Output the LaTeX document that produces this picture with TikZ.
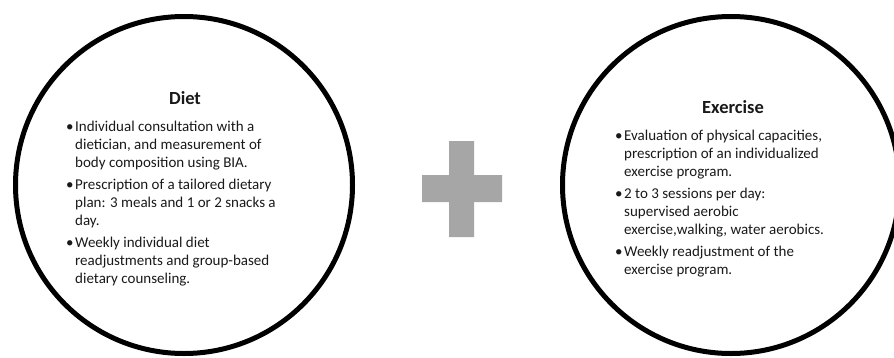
\documentclass[tikz,border=0pt]{standalone}
\usepackage{fontspec}
\setmainfont{Carlito}
\begin{document}
\begin{tikzpicture}[x=1pt,y=-1pt,
  ring/.style={circle, draw=black, line width=5pt, minimum size=337pt, inner sep=0pt},
  heading/.style={font=\fontsize{18.5}{22}\selectfont\bfseries, inner sep=0pt, anchor=base, text=black!90},
  bullets/.style={font=\fontsize{15}{18}\selectfont, anchor=base west, inner sep=0pt, text=black!90},
  plus/.style={fill=black!35, draw=none}]
\useasboundingbox (0,0) rectangle (894,357);
\node[ring] (diet) at (184,185) {};
\node[ring] (exercise) at (731,185) {};
\node[heading] (diettitle) at (185,104) {Diet};
\node[heading] (exercisetitle) at (733,113) {Exercise};
\node[bullets] (diettext) at (66,131.5) {\begin{tabular}[t]{@{}p{9pt}@{}l@{}}
•& Individual consultation with a\\
 & dietician, and measurement of\\
 & body composition using BIA.\\[4pt]
•& Prescription of a tailored dietary\\
 & plan: 3 meals and 1 or 2 snacks a\\
 & day.\\[4pt]
•& Weekly individual diet\\
 & readjustments and group-based\\
 & dietary counseling.
\end{tabular}};
\node[bullets] (exercisetext) at (615,140.5) {\begin{tabular}[t]{@{}p{9pt}@{}l@{}}
•& Evaluation of physical capacities,\\
 & prescription of an individualized\\
 & exercise program.\\[4pt]
•& 2 to 3 sessions per day:\\
 & supervised aerobic\\
 & exercise,walking, water aerobics.\\[4pt]
•& Weekly readjustment of the\\
 & exercise program.
\end{tabular}};
\path[plus] (449,141) -- (474,141) -- (474,175) -- (502,175) -- (502,202) -- (474,202) -- (474,237) -- (449,237) -- (449,202) -- (422,202) -- (422,175) -- (449,175) -- cycle;
\end{tikzpicture}
\end{document}
